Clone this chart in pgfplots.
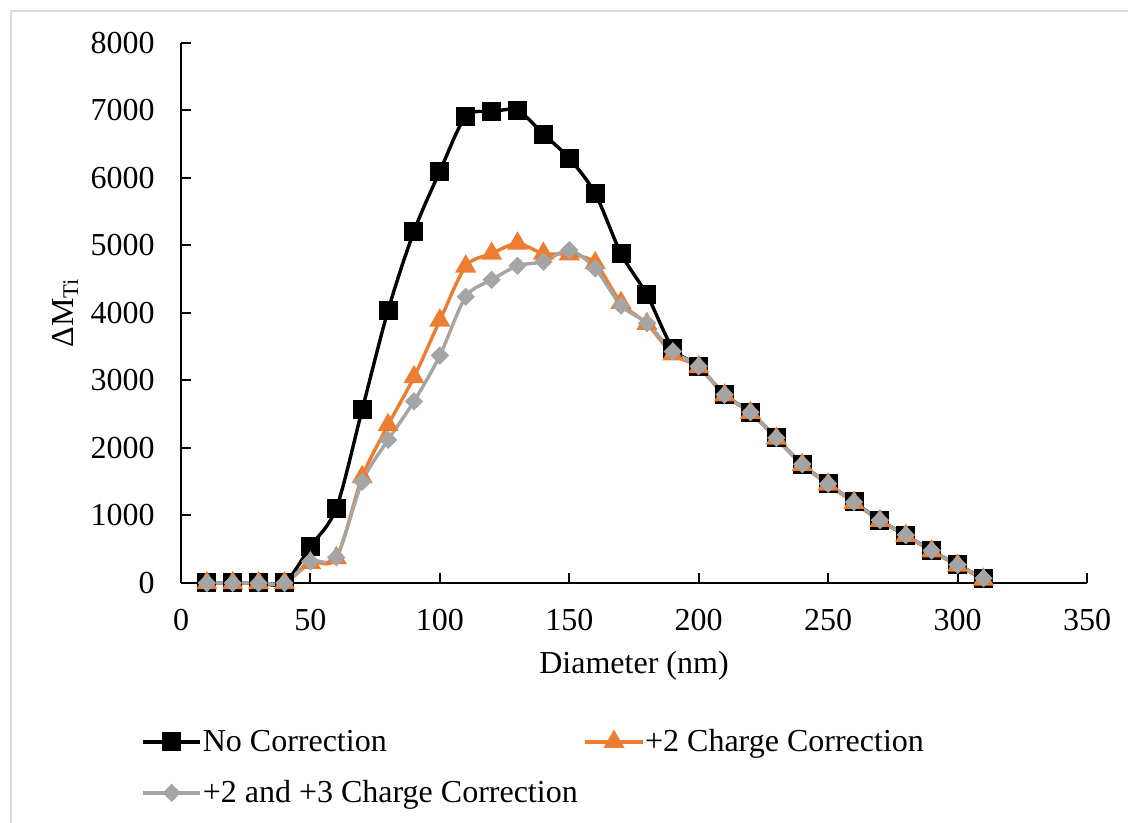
\documentclass[border=0pt]{standalone}
\usepackage{fontspec}
\setmainfont{Liberation Serif}
\usepackage{pgfplots}
\pgfplotsset{compat=1.18}
\definecolor{cOrange}{HTML}{ED7D31}
\definecolor{cGray}{HTML}{A5A5A5}
\definecolor{cFrame}{HTML}{D9D9D9}
\newcommand{\ff}{\fontsize{16pt}{19pt}\selectfont}
\begin{document}
\begin{tikzpicture}[x=1pt,y=1pt]
\useasboundingbox (0,0) rectangle (564,411.5);
\draw[cFrame, line width=1pt] (5.25,0) -- (5.25,405.75) -- (564,405.75);
\begin{axis}[
  at={(90.5pt,120pt)}, anchor=south west,
  width=453pt, height=270pt, scale only axis,
  xmin=0, xmax=350, ymin=0, ymax=8000,
  axis x line=bottom, axis y line=left,
  axis line style={-, line width=1pt, black},
  xtick={0,50,...,350}, ytick={0,1000,...,8000},
  tick align=inside, major tick length=5pt,
  tick style={line width=1pt, black},
  scaled y ticks=false,
  /pgf/number format/assume math mode=true,
  /pgf/number format/set thousands separator={},
  ticklabel style={font=\ff, inner sep=0pt},
  xticklabel shift=13pt, yticklabel shift=13pt,
  xlabel={Diameter (nm)},
  ylabel={ΔM\textsubscript{Ti}},
  label style={font=\ff, inner sep=0pt},
  xlabel style={at={(axis description cs:0.5,-0.1685)}, anchor=base},
  ylabel style={at={(axis description cs:-0.1192,0.5)}, anchor=base},
  clip=false,
  legend columns=2,
  legend cell align=left,
  legend image code/.code={\draw[mark repeat=2,mark phase=2,yshift=1pt] plot coordinates {(0pt,0pt) (14.25pt,0pt) (28.5pt,0pt)};},
  legend style={at={(axis description cs:-0.04415,-0.2703)}, anchor=north west,
    draw=none, fill=none, inner sep=0pt, font=\ff,
    row sep=11pt,
    nodes={inner sep=0pt, text height=11pt, text depth=3.5pt},
    /tikz/every odd column/.append style={column sep=0.5pt},
    /tikz/every even column/.append style={column sep=3pt}},
  every axis plot/.append style={line width=1.7pt, smooth, tension=0.5},
]
\addplot[black, mark=square*, mark size=3.9pt, mark options={solid}] coordinates {
(10,0) (20,0) (30,0) (40,0) (50,540) (60,1110) (70,2570) (80,4040) (90,5210) (100,6100)
(110,6910) (120,6980) (130,7000) (140,6650) (150,6290) (160,5770) (170,4880) (180,4270)
(190,3480) (200,3210) (210,2790) (220,2530) (230,2150) (240,1760) (250,1470) (260,1200)
(270,930) (280,710) (290,480) (300,270) (310,70)};
\addlegendentry{No Correction}
\addplot[cOrange, mark=triangle*, mark size=4.4pt] coordinates {
(10,0) (20,0) (30,0) (40,0) (50,300) (60,370) (70,1570) (80,2340) (90,3050) (100,3890)
(110,4690) (120,4880) (130,5030) (140,4880) (150,4870) (160,4740) (170,4150) (180,3840)
(190,3390) (200,3200) (210,2780) (220,2520) (230,2140) (240,1750) (250,1460) (260,1190)
(270,920) (280,700) (290,470) (300,260) (310,50)};
\addlegendentry{+2 Charge Correction}
\addplot[cGray, mark=square*, mark size=2.4pt, mark options={rotate=45}] coordinates {
(10,0) (20,0) (30,0) (40,0) (50,320) (60,380) (70,1500) (80,2120) (90,2690) (100,3370)
(110,4240) (120,4490) (130,4700) (140,4760) (150,4930) (160,4660) (170,4110) (180,3850)
(190,3430) (200,3210) (210,2790) (220,2530) (230,2150) (240,1760) (250,1470) (260,1200)
(270,930) (280,710) (290,480) (300,270) (310,70)};
\addlegendentry{+2 and +3 Charge Correction}
\end{axis}
\end{tikzpicture}
\end{document}
